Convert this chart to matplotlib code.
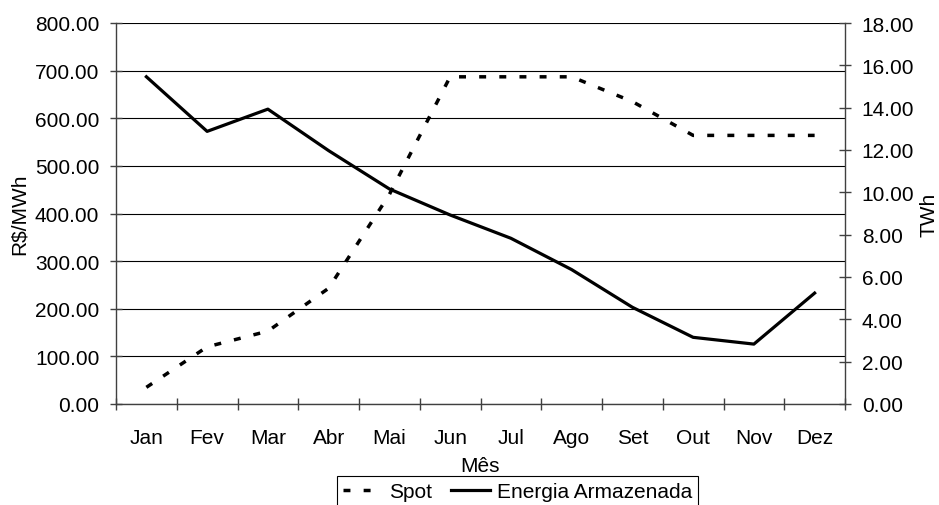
import matplotlib.pyplot as plt
import numpy as np
from matplotlib.ticker import FormatStrFormatter, FixedLocator

plt.rcParams['font.family'] = ['Liberation Sans', 'DejaVu Sans']
plt.rcParams['font.size'] = 15

# data
meses = ["Jan", "Fev", "Mar", "Abr", "Mai", "Jun", "Jul", "Ago", "Set", "Out", "Nov", "Dez"]
spot = [35, 120, 153, 243, 440, 687, 687, 687, 635, 564, 564, 564]          # R$/MWh
energia = [15.46, 12.88, 13.93, 11.97, 10.16, 8.93, 7.83, 6.35, 4.57, 3.15, 2.83, 5.24]  # TWh

x = np.arange(len(meses))

fig = plt.figure(figsize=(9.39, 5.06), dpi=100)
ax = fig.add_axes([116/939, 1-405/506, 729/939, 381/506])
ax2 = ax.twinx()

l1, = ax.plot(x, spot, color='black', lw=2.5, ls=(0, (2.0, 3.8)), label='Spot')
l2, = ax2.plot(x, energia, color='black', lw=2.3, label='Energia Armazenada')

ax.set_ylim(0, 800)
ax.set_yticks(np.arange(0, 801, 100))
ax.yaxis.set_major_formatter(FormatStrFormatter('%.2f'))
ax.grid(axis='y', color='black', lw=0.8)
ax.set_axisbelow(True)

ax2.set_ylim(0, 18)
ax2.set_yticks(np.arange(0, 18.1, 2))
ax2.yaxis.set_major_formatter(FormatStrFormatter('%.2f'))

ax.set_xlim(-0.5, len(meses) - 0.5)
ax.xaxis.set_major_locator(FixedLocator(np.arange(-0.5, len(meses), 1)))
ax.xaxis.set_major_formatter(plt.NullFormatter())
ax.xaxis.set_minor_locator(FixedLocator(x))
ax.set_xticklabels(meses, minor=True)

for a in (ax, ax2):
    a.spines['top'].set_visible(False)
    for s in ('left', 'right', 'bottom'):
        a.spines[s].set_color('#404040')
        a.spines[s].set_linewidth(1)
    a.tick_params(which='major', direction='inout', length=8, width=1, color='#404040', pad=8)
ax.spines['right'].set_visible(False)
ax2.spines['left'].set_visible(False)
ax2.spines['bottom'].set_visible(False)
ax.tick_params(axis='x', which='major', pad=0)
ax.tick_params(axis='x', which='minor', length=0, pad=17)

ax.set_ylabel('R$/MWh')
ax.yaxis.set_label_coords(-0.119, 0.5)
ax2.set_ylabel('TWh')
ax2.yaxis.set_label_coords(1.102, 0.5)
ax.set_xlabel('Mês')
ax.xaxis.set_label_coords(0.5, -0.137)

leg = fig.legend([l1, l2], ['Spot', 'Energia Armazenada'], loc='upper left',
                 bbox_to_anchor=(337/939, 1-477/506), ncol=2, frameon=True,
                 fancybox=False, edgecolor='black', framealpha=1,
                 handlelength=1.9, handletextpad=0.3, columnspacing=0.9,
                 borderpad=0.3, borderaxespad=0)
leg.get_frame().set_linewidth(0.8)

fig.savefig('out.png', dpi=100)
